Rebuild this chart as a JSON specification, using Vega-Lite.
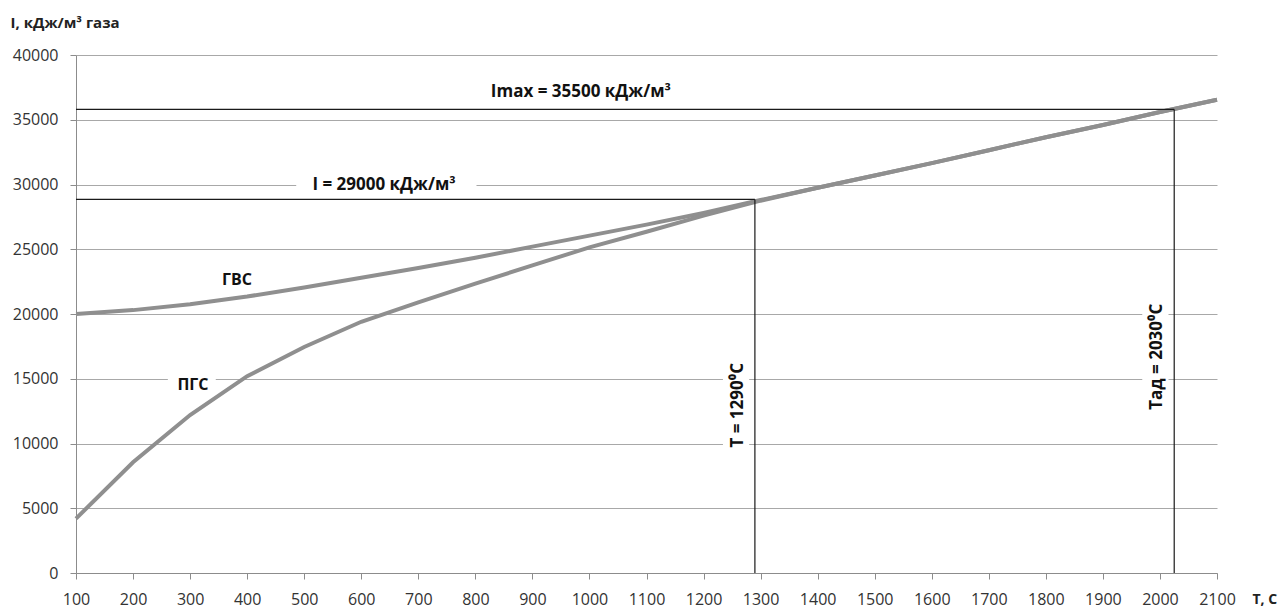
{
  "$schema": "https://vega.github.io/schema/vega-lite/v6.json",
  "width": 1141,
  "height": 518,
  "autosize": {"type": "none"},
  "padding": {"left": 76, "top": 55, "right": 62, "bottom": 37},
  "background": "white",
  "config": {
    "view": {"stroke": null},
    "font": "Open Sans",
    "axis": {
      "labelFont": "Open Sans",
      "labelFontSize": 16,
      "labelColor": "#333333",
      "gridColor": "#a8a8a8",
      "gridWidth": 1,
      "domainColor": "#8c8c8c",
      "tickColor": "#8c8c8c",
      "tickSize": 6,
      "titleFont": "Open Sans",
      "titleFontWeight": "bold",
      "titleColor": "#222222"
    }
  },
  "datasets": {
    "curves": [
      {"series": "ГВС", "x": 100, "y": 20000},
      {"series": "ГВС", "x": 200, "y": 20300},
      {"series": "ГВС", "x": 300, "y": 20750},
      {"series": "ГВС", "x": 400, "y": 21350},
      {"series": "ГВС", "x": 500, "y": 22050},
      {"series": "ГВС", "x": 600, "y": 22800},
      {"series": "ГВС", "x": 700, "y": 23550},
      {"series": "ГВС", "x": 800, "y": 24350},
      {"series": "ГВС", "x": 900, "y": 25200},
      {"series": "ГВС", "x": 1000, "y": 26050},
      {"series": "ГВС", "x": 1100, "y": 26900},
      {"series": "ГВС", "x": 1200, "y": 27800},
      {"series": "ГВС", "x": 1300, "y": 28800},
      {"series": "ГВС", "x": 1400, "y": 29750},
      {"series": "ГВС", "x": 1500, "y": 30700},
      {"series": "ГВС", "x": 1600, "y": 31650},
      {"series": "ГВС", "x": 1700, "y": 32650},
      {"series": "ГВС", "x": 1800, "y": 33650},
      {"series": "ГВС", "x": 1900, "y": 34600},
      {"series": "ГВС", "x": 2000, "y": 35600},
      {"series": "ГВС", "x": 2100, "y": 36550},
      {"series": "ПГС", "x": 100, "y": 4200},
      {"series": "ПГС", "x": 200, "y": 8550},
      {"series": "ПГС", "x": 300, "y": 12200},
      {"series": "ПГС", "x": 400, "y": 15200},
      {"series": "ПГС", "x": 500, "y": 17450},
      {"series": "ПГС", "x": 600, "y": 19400},
      {"series": "ПГС", "x": 700, "y": 20900},
      {"series": "ПГС", "x": 800, "y": 22350},
      {"series": "ПГС", "x": 900, "y": 23750},
      {"series": "ПГС", "x": 1000, "y": 25150},
      {"series": "ПГС", "x": 1100, "y": 26350},
      {"series": "ПГС", "x": 1200, "y": 27600},
      {"series": "ПГС", "x": 1300, "y": 28750},
      {"series": "ПГС", "x": 1400, "y": 29750},
      {"series": "ПГС", "x": 1500, "y": 30700},
      {"series": "ПГС", "x": 1600, "y": 31650},
      {"series": "ПГС", "x": 1700, "y": 32650},
      {"series": "ПГС", "x": 1800, "y": 33650},
      {"series": "ПГС", "x": 1900, "y": 34600},
      {"series": "ПГС", "x": 2000, "y": 35600},
      {"series": "ПГС", "x": 2100, "y": 36550}
    ],
    "masks": [
      {"x": 486, "x2": 802, "y": 29500, "y2": 30500},
      {"x": 261, "x2": 345, "y": 14700, "y2": 15300},
      {"x": 1234, "x2": 1280, "y": 8200, "y2": 17600},
      {"x": 1969, "x2": 2015, "y": 11500, "y2": 21800}
    ],
    "rules": [
      {"x": 100, "x2": 2025, "y": 35800, "y2": 35800},
      {"x": 2025, "x2": 2025, "y": 0, "y2": 35800},
      {"x": 100, "x2": 1290, "y": 28850, "y2": 28850},
      {"x": 1290, "x2": 1290, "y": 0, "y2": 28850}
    ],
    "bigLabels": [
      {"label": "Imax = 35500 кДж/м³", "x": 985, "y": 37150},
      {"label": "I = 29000 кДж/м³", "x": 640, "y": 30000}
    ],
    "curveLabels": [
      {"label": "ГВС", "x": 382, "y": 22600},
      {"label": "ПГС", "x": 305, "y": 14500}
    ],
    "rotLabels": [
      {"label": "T = 1290⁰C", "x": 1261, "y": 12950},
      {"label": "Tад = 2030⁰C", "x": 1995, "y": 16700}
    ]
  },
  "encoding": {
    "x": {
      "field": "x", "type": "quantitative",
      "scale": {"domain": [100, 2100], "nice": false, "zero": false},
      "axis": {
        "values": [100, 200, 300, 400, 500, 600, 700, 800, 900, 1000, 1100, 1200, 1300, 1400, 1500, 1600, 1700, 1800, 1900, 2000, 2100],
        "format": "d",
        "grid": false,
        "labelPadding": 12,
        "labelFlush": false,
        "labelOverlap": false,
        "title": "T, C",
        "titleFontSize": 14,
        "titleAlign": "left",
        "titleBaseline": "middle",
        "titleX": 1176,
        "titleY": 26
      }
    },
    "y": {
      "field": "y", "type": "quantitative",
      "scale": {"domain": [0, 40000], "nice": false},
      "axis": {
        "values": [0, 5000, 10000, 15000, 20000, 25000, 30000, 35000, 40000],
        "grid": true,
        "format": "d",
        "labelPadding": 12,
        "title": "I, кДж/м³ газа",
        "titleFontSize": 15,
        "titleAngle": 0,
        "titleAlign": "left",
        "titleBaseline": "alphabetic",
        "titleX": -66,
        "titleY": -28
      }
    }
  },
  "layer": [
    {
      "data": {"name": "masks"},
      "mark": {"type": "rect", "fill": "white"},
      "encoding": {
        "x2": {"field": "x2"},
        "y2": {"field": "y2"}
      }
    },
    {
      "data": {"name": "curves"},
      "mark": {"type": "line", "strokeWidth": 4, "interpolate": "linear"},
      "encoding": {
        "color": {"field": "series", "type": "nominal", "scale": {"range": ["#8f8f8f", "#8f8f8f"]}, "legend": null}
      }
    },
    {
      "data": {"name": "rules"},
      "mark": {"type": "rule", "color": "#1a1a1a", "strokeWidth": 1.2},
      "encoding": {
        "x2": {"field": "x2"},
        "y2": {"field": "y2"}
      }
    },
    {
      "data": {"name": "bigLabels"},
      "mark": {"type": "text", "fontWeight": "bold", "fontSize": 17, "color": "#111111", "align": "center", "baseline": "middle"},
      "encoding": {
        "text": {"field": "label"}
      }
    },
    {
      "data": {"name": "curveLabels"},
      "mark": {"type": "text", "fontWeight": "bold", "fontSize": 16, "color": "#111111", "align": "center", "baseline": "middle"},
      "encoding": {
        "text": {"field": "label"}
      }
    },
    {
      "data": {"name": "rotLabels"},
      "mark": {"type": "text", "fontWeight": "bold", "fontSize": 17, "color": "#111111", "align": "center", "baseline": "middle", "angle": 270},
      "encoding": {
        "text": {"field": "label"}
      }
    }
  ]
}
